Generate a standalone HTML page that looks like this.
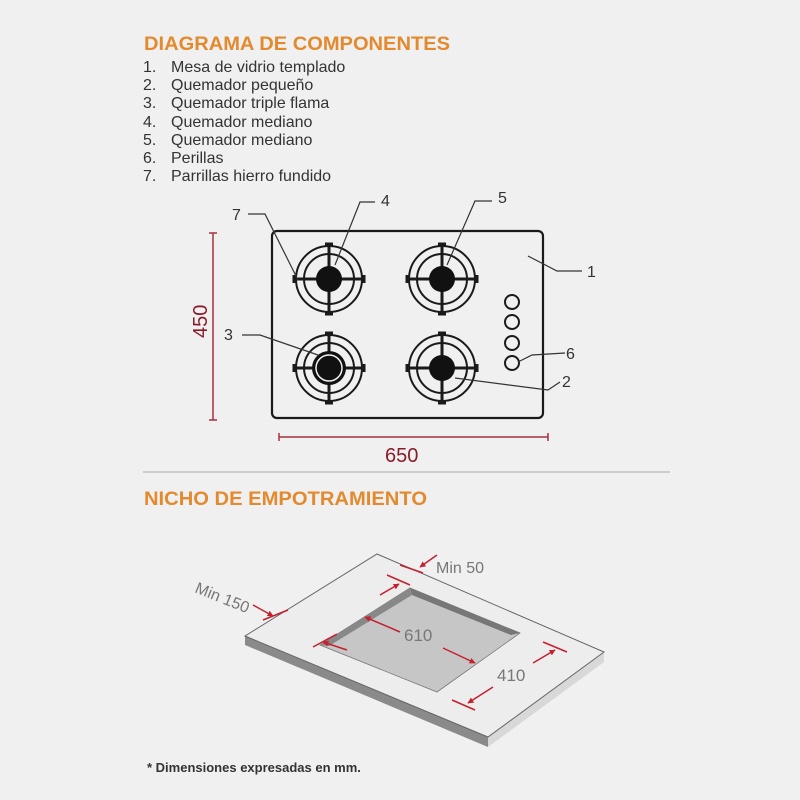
<!DOCTYPE html>
<html><head><meta charset="utf-8"><style>
html,body{margin:0;padding:0;background:#f0f0f0}
svg{display:block}
text{font-family:"Liberation Sans",sans-serif}
</style></head><body>
<svg width="800" height="800" viewBox="0 0 800 800" xmlns="http://www.w3.org/2000/svg">
<defs>
<marker id="ar" viewBox="0 0 10 10" refX="9" refY="5" markerWidth="4" markerHeight="4" orient="auto"><path d="M0,0 L10,5 L0,10 z" fill="#c4202e"/></marker>
<g id="brn">
<circle r="33" fill="none" stroke="#1a1a1a" stroke-width="2"/>
<circle r="25" fill="none" stroke="#1a1a1a" stroke-width="2"/>
<line x1="-36" y1="0" x2="36" y2="0" stroke="#1a1a1a" stroke-width="3"/>
<line x1="0" y1="-36" x2="0" y2="36" stroke="#1a1a1a" stroke-width="3"/>
<line x1="-35" y1="-4" x2="-35" y2="4" stroke="#1a1a1a" stroke-width="3"/>
<line x1="35" y1="-4" x2="35" y2="4" stroke="#1a1a1a" stroke-width="3"/>
<line x1="-4" y1="-35" x2="4" y2="-35" stroke="#1a1a1a" stroke-width="3"/>
<line x1="-4" y1="35" x2="4" y2="35" stroke="#1a1a1a" stroke-width="3"/>
</g>
</defs>
<rect width="800" height="800" fill="#f0f0f0"/>
<text x="144" y="50" font-size="19" font-weight="bold" fill="#e38a2e" textLength="306" lengthAdjust="spacingAndGlyphs">DIAGRAMA DE COMPONENTES</text>
<g font-size="16" fill="#333">
<text x="143" y="72">1.</text><text x="171" y="72">Mesa de vidrio templado</text>
<text x="143" y="90">2.</text><text x="171" y="90">Quemador pequeño</text>
<text x="143" y="108">3.</text><text x="171" y="108">Quemador triple flama</text>
<text x="143" y="127">4.</text><text x="171" y="127">Quemador mediano</text>
<text x="143" y="145">5.</text><text x="171" y="145">Quemador mediano</text>
<text x="143" y="163">6.</text><text x="171" y="163">Perillas</text>
<text x="143" y="181">7.</text><text x="171" y="181">Parrillas hierro fundido</text>
</g>
<rect x="272" y="231" width="271" height="187" rx="5" fill="#f0f0f0" stroke="#1a1a1a" stroke-width="2.2"/>
<use href="#brn" x="329" y="279"/>
<circle cx="329" cy="279" r="13" fill="#111"/>
<use href="#brn" x="442" y="279"/>
<circle cx="442" cy="279" r="13" fill="#111"/>
<use href="#brn" x="442" y="368"/>
<circle cx="442" cy="368" r="13" fill="#111"/>
<use href="#brn" x="329" y="368"/>
<circle cx="329" cy="368" r="17" fill="#111"/>
<circle cx="329" cy="368" r="13" fill="none" stroke="#f0f0f0" stroke-width="1.5"/>
<circle cx="329" cy="368" r="10.5" fill="#111"/>
<g fill="none" stroke="#1a1a1a" stroke-width="2">
<circle cx="512" cy="302" r="7"/><circle cx="512" cy="322" r="7"/><circle cx="512" cy="343" r="7"/><circle cx="512" cy="363" r="7"/>
</g>
<g fill="none" stroke="#333" stroke-width="1.2">
<polyline points="248,214 265,214 298,280"/>
<polyline points="375,202 360,202 335,265"/>
<polyline points="492,201 475,201 447,265"/>
<polyline points="582,271 557,271 528,256"/>
<polyline points="565,353 532,355 518,362"/>
<polyline points="560,382 548,390 455,378"/>
<polyline points="242,335 260,335 318,355"/>
</g>
<g font-size="16" fill="#333">
<text x="232" y="220">7</text><text x="381" y="206">4</text><text x="498" y="203">5</text>
<text x="587" y="277">1</text><text x="566" y="359">6</text><text x="562" y="387">2</text><text x="224" y="340">3</text>
</g>
<g stroke="#a8313f" stroke-width="1.5">
<line x1="213" y1="233" x2="213" y2="420"/><line x1="209" y1="233" x2="217" y2="233"/><line x1="209" y1="420" x2="217" y2="420"/>
<line x1="279" y1="437" x2="548" y2="437"/><line x1="279" y1="433" x2="279" y2="441"/><line x1="548" y1="433" x2="548" y2="441"/>
</g>
<text x="0" y="0" font-size="20" fill="#8a1c2a" transform="translate(207,338) rotate(-90)">450</text>
<text x="385" y="462" font-size="20" fill="#8a1c2a">650</text>
<line x1="143" y1="472" x2="670" y2="472" stroke="#aaa" stroke-width="1"/>
<text x="144" y="505" font-size="19" font-weight="bold" fill="#e38a2e" textLength="283" lengthAdjust="spacingAndGlyphs">NICHO DE EMPOTRAMIENTO</text>
<polygon points="245,636 488,737 488,747 245,645" fill="#8a8a8a"/>
<polygon points="488,737 604,652 604,662 488,747" fill="#d8d8d8"/>
<polygon points="245,636 377,554 604,652 488,737" fill="#ededed" stroke="#666" stroke-width="1"/>
<polygon points="410,588 520,633 437,692 320,645" fill="#c6c6c6" stroke="#777" stroke-width="0.8"/>
<polygon points="410,588 520,633 511,635 412,595" fill="#777"/>
<polygon points="410,588 412,595 329,646 320,645" fill="#888"/>
<g stroke="#c4202e" stroke-width="1.5" fill="none">
<line x1="400" y1="565" x2="423" y2="573"/>
<line x1="437" y1="555" x2="420" y2="567" marker-end="url(#ar)"/>
<line x1="387" y1="575" x2="410" y2="585"/>
<line x1="380" y1="595" x2="399" y2="584" marker-end="url(#ar)"/>
<line x1="263" y1="620" x2="288" y2="610"/>
<line x1="253" y1="605" x2="273" y2="616" marker-end="url(#ar)"/>
<line x1="400" y1="632" x2="365" y2="617" marker-end="url(#ar)"/>
<line x1="313" y1="647" x2="337" y2="634"/>
<line x1="347" y1="650" x2="323" y2="642" marker-end="url(#ar)"/>
<line x1="443" y1="648" x2="475" y2="663" marker-end="url(#ar)"/>
<line x1="533" y1="663" x2="555" y2="650" marker-end="url(#ar)"/>
<line x1="543" y1="642" x2="567" y2="652"/>
<line x1="493" y1="687" x2="468" y2="703" marker-end="url(#ar)"/>
<line x1="452" y1="700" x2="475" y2="710"/>
</g>
<g font-size="16" fill="#777">
<text x="436" y="573">Min 50</text>
<text x="0" y="0" transform="translate(194,592) rotate(22)">Min 150</text>
<text x="404" y="641" font-size="17">610</text>
<text x="497" y="681" font-size="17">410</text>
</g>
<text x="147" y="772" font-size="13" font-weight="600" fill="#333">* Dimensiones expresadas en mm.</text>
</svg>
</body></html>
